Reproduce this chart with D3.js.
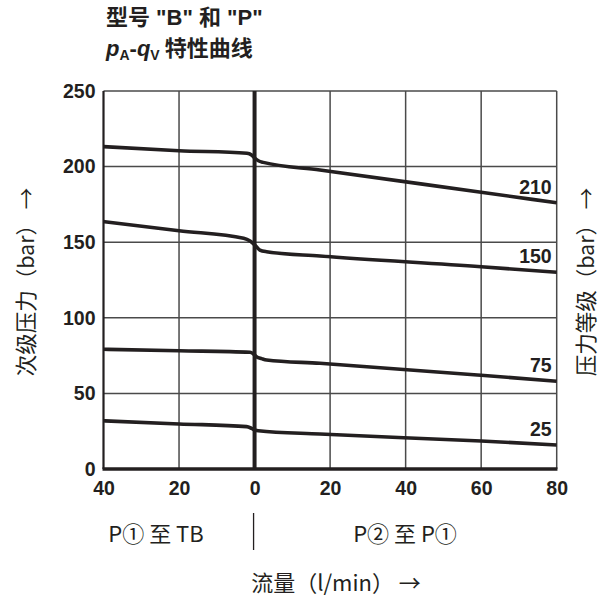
<!DOCTYPE html>
<html>
<head>
<meta charset="utf-8">
<script src="https://cdn.jsdelivr.net/npm/d3@7"></script>
<style>
  html, body { margin: 0; padding: 0; background: #fff; }
  svg { display: block; }
  text { fill: #231f20; }
</style>
</head>
<body>
<svg id="chart" width="611" height="601"></svg>
<script>
// Pressure stages (bar) – one curve per setting
const stages = ["210", "150", "75", "25"];

// Flow in l/min: negative = P① to TB, positive = P② to P①
const p210 = [[-40, 213.2], [-20, 210.5], [-2, 208.8], [-0.8, 207.7], [0.1, 205.5], [1, 203.9], [2.3, 202.8], [17.3, 197.8], [60, 183], [80, 176.1]];
const p150 = [[-40, 163.6], [-20, 157.6], [-2.9, 152.6], [-1.2, 150.8], [0.1, 148.1], [1.4, 144.8], [3.2, 143.7], [17.3, 140.9], [60, 133.8], [80, 130.1]];
const p75  = [[-40, 79.2], [-20, 78.2], [-1.2, 77.2], [-0.3, 76.1], [0.5, 74.3], [1.9, 73], [3.2, 72.1], [17.3, 69.9], [60, 62], [80, 58]];
const p25  = [[-40, 31.9], [-20, 29.8], [-2.1, 28], [-0.8, 26.9], [0.1, 25.8], [1, 25.3], [17.3, 23.1], [60, 18.5], [80, 15.9]];
const seriesValues = [p210, p150, p75, p25];

const xTicks = [-40, -20, 0, 20, 40, 60, 80];
const yTicks = [0, 50, 100, 150, 200, 250];

const svg = d3.select("#chart");
const ink = "#231f20";
const latin = "'Liberation Sans', 'Noto Sans CJK SC', sans-serif";
const cjk = "'Noto Sans CJK SC', 'Liberation Sans', sans-serif";

const plot = { left: 103.5, right: 556.7, top: 91, bottom: 469 };
const x = d3.scaleLinear().domain([-40, 80]).range([plot.left, plot.right]);
const y = d3.scaleLinear().domain([0, 250]).range([plot.bottom, plot.top]);

// grid
const grid = svg.append("g");
grid.selectAll("line.h").data(yTicks.filter(v => v > 0)).join("line")
  .attr("x1", plot.left).attr("x2", plot.right)
  .attr("y1", d => y(d)).attr("y2", d => y(d))
  .attr("stroke", "#4a4a4a").attr("stroke-width", 1.5);
grid.selectAll("line.v").data(xTicks.filter(v => v !== 0 && v !== -40)).join("line")
  .attr("x1", d => x(d)).attr("x2", d => x(d))
  .attr("y1", plot.top).attr("y2", plot.bottom)
  .attr("stroke", "#4a4a4a").attr("stroke-width", 1.5);

// frame
svg.append("line").attr("x1", x(-40)).attr("x2", x(-40))
  .attr("y1", plot.top).attr("y2", plot.bottom)
  .attr("stroke", ink).attr("stroke-width", 2.2);
svg.append("line").attr("x1", x(0)).attr("x2", x(0))
  .attr("y1", plot.top).attr("y2", plot.bottom)
  .attr("stroke", ink).attr("stroke-width", 4);
svg.append("line").attr("x1", plot.left - 1).attr("x2", plot.right + 0.75)
  .attr("y1", y(0)).attr("y2", y(0))
  .attr("stroke", ink).attr("stroke-width", 3.5);

// curves
const line = d3.line().x(d => x(d[0])).y(d => y(d[1])).curve(d3.curveMonotoneX);
svg.append("g").selectAll("path").data(seriesValues).join("path")
  .attr("d", line)
  .attr("fill", "none").attr("stroke", ink)
  .attr("stroke-width", 3.6).attr("stroke-linejoin", "round");

// stage labels at the right end of each curve
svg.append("g").selectAll("text").data(seriesValues).join("text")
  .attr("x", plot.right - 5)
  .attr("y", d => y(d[d.length - 1][1]) - 9)
  .attr("text-anchor", "end")
  .attr("font-family", latin).attr("font-weight", "bold").attr("font-size", 19.5)
  .text((d, i) => stages[i]);

// axes
const yAxis = svg.append("g").attr("transform", `translate(${plot.left},0)`)
  .call(d3.axisLeft(y).tickValues(yTicks).tickSize(0).tickPadding(8));
const xAxis = svg.append("g").attr("transform", `translate(0,${plot.bottom})`)
  .call(d3.axisBottom(x).tickValues(xTicks).tickSize(0).tickPadding(12).tickFormat(d => Math.abs(d)));
[yAxis, xAxis].forEach(a => {
  a.select(".domain").remove();
  a.selectAll("text").attr("font-family", latin).attr("font-weight", "bold")
    .attr("font-size", 19.5).attr("fill", ink);
});

// titles
svg.append("text").attr("x", 106).attr("y", 25)
  .attr("font-family", latin).attr("font-weight", "bold").attr("font-size", 22)
  .text("型号 \"B\" 和 \"P\"");
const t2 = svg.append("text").attr("x", 106).attr("y", 56)
  .attr("font-family", latin).attr("font-weight", "bold").attr("font-size", 22);
t2.append("tspan").attr("font-style", "italic").text("p");
t2.append("tspan").attr("font-size", 14).attr("dy", 4).text("A");
t2.append("tspan").attr("dy", -4).text("-");
t2.append("tspan").attr("font-style", "italic").text("q");
t2.append("tspan").attr("font-size", 14).attr("dy", 4).text("V");
t2.append("tspan").attr("dy", -4).attr("font-family", cjk).text(" 特性曲线");

// axis titles
svg.append("text")
  .attr("transform", "translate(34,282) rotate(-90)")
  .attr("text-anchor", "middle")
  .attr("font-family", cjk).attr("font-size", 21.5)
  .text("次级压力（bar） →");
svg.append("text")
  .attr("transform", "translate(594,282) rotate(-90)")
  .attr("text-anchor", "middle")
  .attr("font-family", cjk).attr("font-size", 21.5)
  .text("压力等级（bar） →");

// flow direction notes
svg.append("text").attr("x", 156).attr("y", 542).attr("text-anchor", "middle")
  .attr("font-family", cjk).attr("font-size", 22).text("P① 至 TB");
svg.append("text").attr("x", 405).attr("y", 542).attr("text-anchor", "middle")
  .attr("font-family", cjk).attr("font-size", 22).text("P② 至 P①");
svg.append("line").attr("x1", x(0) - 1).attr("x2", x(0) - 1)
  .attr("y1", 513).attr("y2", 550).attr("stroke", ink).attr("stroke-width", 1.3);
svg.append("text").attr("x", 336).attr("y", 591).attr("text-anchor", "middle")
  .attr("font-family", cjk).attr("font-size", 22).text("流量（l/min） →");
</script>
</body>
</html>
